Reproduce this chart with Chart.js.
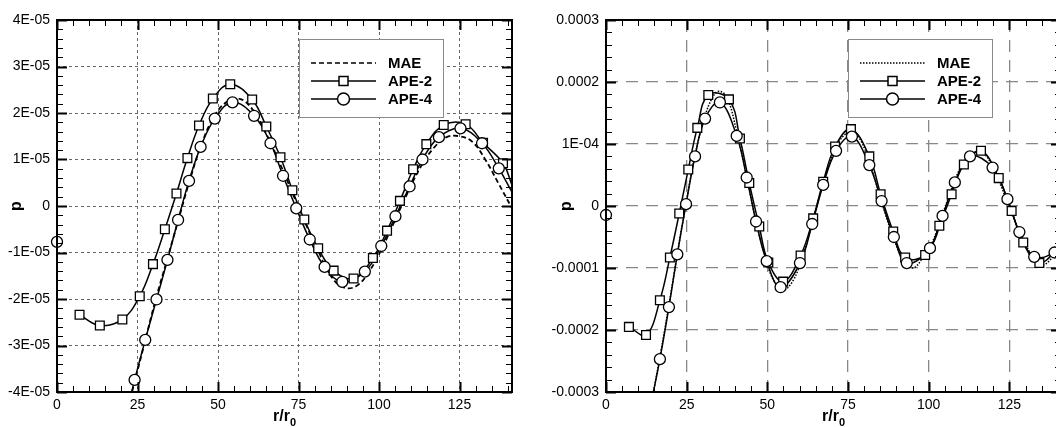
<!DOCTYPE html>
<html>
<head>
<meta charset="utf-8">
<script src="https://cdn.jsdelivr.net/npm/chart.js@4.4.0/dist/chart.umd.min.js"></script>
<style>
html, body { margin: 0; padding: 0; background: #fff; overflow: hidden; width: 1056px; height: 427px; }
canvas { position: absolute; top: 0; }
#leftCnvs { left: 0; }
#rightCnvs { left: 540px; }
</style>
</head>
<body>
<canvas id="leftCnvs" width="540" height="427"></canvas>
<canvas id="rightCnvs" width="530" height="427"></canvas>
<script>
// ---- data (left panel values in units of 1E-05, right panel in units of 1E-04) ----
var seriesNames = ['MAE', 'APE-2', 'APE-4'];
var xTickValues = [0, 25, 50, 75, 100, 125];
var leftYTickLabels  = ['-4E-05', '-3E-05', '-2E-05', '-1E-05', '0', '1E-05', '2E-05', '3E-05', '4E-05'];
var rightYTickLabels = ['-0.0003', '-0.0002', '-0.0001', '0', '1E-04', '0.0002', '0.0003'];

// left panel
var leftApe2X = [7.0, 13.3, 20.3, 25.7, 29.8, 33.5, 37.1, 40.5, 44.1, 48.4, 53.8, 60.6, 65.0, 69.4, 73.1, 76.8, 81.1, 85.9, 92.1, 98.1, 102.5, 106.5, 110.6, 114.7, 120.1, 126.9, 132.3, 138.5];
var leftApe2Y = [-2.34, -2.57, -2.44, -1.94, -1.25, -0.50, 0.27, 1.03, 1.73, 2.31, 2.62, 2.29, 1.71, 1.05, 0.34, -0.29, -0.91, -1.39, -1.56, -1.12, -0.53, 0.11, 0.79, 1.33, 1.74, 1.76, 1.36, 0.92];
var leftApe2End = [141.3, 0.45];
var leftApe4X = [24.1, 27.4, 30.9, 34.3, 37.6, 41.0, 44.6, 49.0, 54.5, 61.2, 66.3, 70.2, 74.3, 78.5, 83.1, 88.6, 95.6, 100.7, 105.1, 109.5, 113.5, 118.6, 125.3, 132.0, 137.2];
var leftApe4Y = [-3.74, -2.88, -2.01, -1.16, -0.30, 0.54, 1.27, 1.88, 2.23, 1.94, 1.35, 0.65, -0.05, -0.72, -1.31, -1.63, -1.41, -0.86, -0.22, 0.42, 1.00, 1.48, 1.67, 1.35, 0.81];
var leftApe4Start = [23.2, -4.0];
var leftApe4End = [141.3, 0.30];
var leftApe4Lone = [0, -0.77];
var leftMaeX = [23.3, 27, 30.5, 34, 37.5, 41, 45, 49, 53, 57, 61, 65, 69, 73, 77, 81, 85, 89, 93, 97, 101, 105, 109, 113, 117, 121, 125, 129, 133, 137, 141.3];
var leftMaeY = [-4.0, -3.0, -2.05, -1.2, -0.35, 0.5, 1.35, 1.95, 2.25, 2.3, 2.05, 1.55, 0.95, 0.3, -0.35, -0.95, -1.5, -1.75, -1.72, -1.4, -0.9, -0.3, 0.3, 0.85, 1.25, 1.48, 1.5, 1.38, 1.0, 0.5, -0.05];

// right panel
var rightApe2X = [7.1, 12.4, 16.7, 19.8, 22.7, 25.5, 28.3, 31.7, 38.1, 41.5, 44.4, 47.5, 50.3, 54.9, 60.3, 64.2, 67.3, 71.0, 75.9, 81.6, 85.1, 89.0, 92.7, 98.9, 103.3, 107.1, 110.9, 116.2, 121.7, 125.7, 129.3, 134.3];
var rightApe2Y = [-1.95, -2.08, -1.52, -0.83, -0.12, 0.59, 1.26, 1.79, 1.72, 1.09, 0.37, -0.33, -0.91, -1.22, -0.80, -0.20, 0.39, 0.96, 1.24, 0.80, 0.19, -0.41, -0.83, -0.79, -0.32, 0.19, 0.67, 0.89, 0.45, -0.08, -0.59, -0.92];
var rightApe2End = [141, -0.62];
var rightApe4X = [16.7, 19.5, 22.1, 24.8, 27.6, 30.7, 35.3, 40.5, 43.6, 46.5, 49.8, 54.1, 60.1, 63.9, 67.3, 71.3, 76.2, 81.6, 85.4, 89.2, 93.2, 100.4, 104.3, 108.1, 112.8, 119.8, 124.4, 128.1, 132.7, 139.0];
var rightApe4Y = [-2.47, -1.63, -0.78, 0.03, 0.80, 1.41, 1.67, 1.13, 0.46, -0.25, -0.89, -1.31, -0.92, -0.29, 0.34, 0.89, 1.12, 0.66, 0.08, -0.50, -0.92, -0.68, -0.16, 0.38, 0.80, 0.62, 0.11, -0.42, -0.82, -0.75];
var rightApe4Start = [14.7, -3.0];
var rightApe4End = [141, -0.62];
var rightApe4Lone = [0, -0.145];
var rightMaeX = [14.7, 17, 19.5, 22, 24.5, 27.5, 30.5, 33, 35, 37.5, 40.5, 43.5, 46.5, 49.5, 52, 55, 58, 61, 64, 67.5, 71, 74, 76.5, 79, 82, 85.5, 89, 92, 95, 98, 101, 104.5, 108, 111, 114, 117, 120, 124, 128, 132, 135, 138, 141];
var rightMaeY = [-3.0, -2.35, -1.6, -0.8, -0.05, 0.8, 1.42, 1.75, 1.85, 1.75, 1.2, 0.5, -0.25, -0.85, -1.2, -1.35, -1.2, -0.8, -0.25, 0.4, 0.92, 1.15, 1.18, 1.05, 0.65, 0.05, -0.5, -0.85, -1.0, -0.85, -0.6, -0.1, 0.4, 0.72, 0.86, 0.85, 0.6, 0.12, -0.4, -0.8, -0.95, -0.85, -0.6];

var FONT = "'Liberation Sans', Arial, Helvetica, sans-serif";

function pts(xs, ys, unit, start, end) {
  var out = [];
  if (start) out.push({x: start[0], y: start[1] * unit});
  for (var i = 0; i < xs.length; i++) out.push({x: xs[i], y: ys[i] * unit});
  if (end) out.push({x: end[0], y: end[1] * unit});
  return out;
}

var frameTicks = {
  id: 'frameTicks',
  afterDraw: function(chart, args, o) {
    var ctx = chart.ctx, a = chart.chartArea, xs = chart.scales.x, ys = chart.scales.y;
    ctx.save();
    ctx.strokeStyle = '#000';
    // inner ticks, x
    for (var v = 0; v <= xs.max + 1e-9; v += 5) {
      var px = Math.round(xs.getPixelForValue(v)) + 0.5;
      var major = (v % 25 === 0);
      var len = major ? 10 : 6;
      ctx.lineWidth = major ? 2 : 1;
      ctx.beginPath();
      ctx.moveTo(px, a.bottom); ctx.lineTo(px, a.bottom - len);
      ctx.moveTo(px, a.top); ctx.lineTo(px, a.top + len);
      ctx.stroke();
    }
    // inner ticks, y
    var n = Math.round((ys.max - ys.min) / o.yMinor);
    for (var k = 0; k <= n; k++) {
      var py = Math.round(ys.getPixelForValue(ys.min + k * o.yMinor)) + 0.5;
      var maj = (k % 5 === 0);
      var l = maj ? 10 : 6;
      ctx.lineWidth = maj ? 2 : 1;
      ctx.beginPath();
      ctx.moveTo(a.left, py); ctx.lineTo(a.left + l, py);
      ctx.moveTo(a.right, py); ctx.lineTo(a.right - l, py);
      ctx.stroke();
    }
    // frame
    ctx.lineWidth = 2;
    ctx.strokeRect(a.left, a.top, a.right - a.left, a.bottom - a.top);

    // legend box
    var L = o.legend;
    ctx.fillStyle = '#fff';
    ctx.fillRect(L.x, L.y, L.w, L.h);
    ctx.lineWidth = 1;
    ctx.strokeStyle = '#8a8a8a';
    ctx.strokeRect(L.x + 0.5, L.y + 0.5, L.w, L.h);
    ctx.strokeStyle = '#000';
    ctx.font = 'bold 15px ' + FONT;
    ctx.textBaseline = 'middle';
    ctx.fillStyle = '#000';
    for (var r = 0; r < seriesNames.length; r++) {
      var ry = L.rowY[r];
      ctx.lineWidth = 1.5;
      ctx.setLineDash(r === 0 ? o.maeDash : []);
      ctx.beginPath();
      ctx.moveTo(L.lx1, ry); ctx.lineTo(L.lx2, ry);
      ctx.stroke();
      ctx.setLineDash([]);
      var cx = (L.lx1 + L.lx2) / 2;
      if (r === 1) {
        ctx.fillStyle = '#fff';
        ctx.fillRect(cx - 4.5, ry - 4.5, 9, 9);
        ctx.strokeRect(cx - 4.5, ry - 4.5, 9, 9);
      } else if (r === 2) {
        ctx.fillStyle = '#fff';
        ctx.beginPath(); ctx.arc(cx, ry, 6, 0, Math.PI * 2); ctx.fill(); ctx.stroke();
      }
      ctx.fillStyle = '#000';
      ctx.textAlign = 'left';
      ctx.fillText(seriesNames[r], L.tx, ry + 1);
    }

    // axis titles
    ctx.save();
    ctx.translate(o.pX, (a.top + a.bottom) / 2);
    ctx.rotate(-Math.PI / 2);
    ctx.textAlign = 'center';
    ctx.font = 'bold 16px ' + FONT;
    ctx.fillText('p', 0, 0);
    ctx.restore();
    var cxm = (a.left + a.right) / 2;
    ctx.font = 'bold 16px ' + FONT;
    var w1 = ctx.measureText('r/r').width;
    ctx.font = 'bold 11px ' + FONT;
    var w2 = ctx.measureText('0').width;
    ctx.textAlign = 'left';
    ctx.textBaseline = 'alphabetic';
    ctx.font = 'bold 16px ' + FONT;
    ctx.fillText('r/r', cxm - (w1 + w2) / 2, 421);
    ctx.font = 'bold 11px ' + FONT;
    ctx.fillText('0', cxm - (w1 + w2) / 2 + w1, 426);
    ctx.restore();
  }
};

function makeChart(id, c) {
  var u = c.unit;
  var lineBase = {showLine: true, pointRadius: 0, borderColor: '#000', borderWidth: 1.5, tension: 0.4, fill: false};
  var datasets = [
    {data: pts(c.a4x, c.a4y, u), showLine: false, pointStyle: 'circle', pointRadius: 5.5,
     pointBackgroundColor: '#fff', pointBorderColor: '#000', pointBorderWidth: 1.3},
    {data: pts(c.a2x, c.a2y, u), showLine: false, pointStyle: 'rect', pointRadius: 6.2,
     pointBackgroundColor: '#fff', pointBorderColor: '#000', pointBorderWidth: 1.3},
    {data: [{x: c.lone[0], y: c.lone[1] * u}], showLine: false, pointStyle: 'circle', pointRadius: 5.5,
     pointBackgroundColor: '#fff', pointBorderColor: '#000', pointBorderWidth: 1.3, clip: false},
    Object.assign({data: pts(c.a4x, c.a4y, u, c.a4s, c.a4e)}, lineBase),
    Object.assign({data: pts(c.a2x, c.a2y, u, null, c.a2e)}, lineBase),
    Object.assign({data: pts(c.mx, c.my, u), borderDash: c.maeDash}, lineBase, {borderWidth: c.maeWidth})
  ];
  return new Chart(document.getElementById(id), {
    type: 'scatter',
    data: {datasets: datasets},
    options: {
      responsive: false,
      animation: false,
      layout: {padding: {left: 0, right: c.padRight, top: 20, bottom: 0}},
      plugins: {
        legend: {display: false},
        tooltip: {enabled: false},
        frameTicks: {yMinor: c.yStep / 5, legend: c.legend, maeDash: c.maeDash, pX: c.pX}
      },
      scales: {
        x: {
          type: 'linear', min: 0, max: c.xMax,
          afterFit: function(s) { s.height = 35; },
          grid: {color: c.gridColor, lineWidth: c.gridWidth, drawTicks: false},
          border: {display: false, dash: c.gridDash},
          ticks: {
            stepSize: 25, includeBounds: false, padding: 5, color: '#000', maxRotation: 0,
            font: {family: FONT, size: 14},
            callback: function(v) { return xTickValues.indexOf(v) >= 0 ? String(v) : ''; }
          }
        },
        y: {
          type: 'linear', min: c.yMin, max: -c.yMin,
          afterFit: function(s) { s.width = c.yWidth; },
          grid: {color: c.gridColor, lineWidth: c.gridWidth, drawTicks: false},
          border: {display: false, dash: c.gridDash},
          ticks: {
            stepSize: c.yStep, padding: 7, color: '#000',
            font: {family: FONT, size: 14},
            callback: function(v) {
              var i = Math.round((v - c.yMin) / c.yStep);
              return c.yLabels[i];
            }
          }
        }
      }
    },
    plugins: [frameTicks]
  });
}

var leftChart = makeChart('leftCnvs', {
  unit: 1e-5, xMax: 141.3, yMin: -4e-5, yStep: 1e-5, yLabels: leftYTickLabels,
  yWidth: 57, padRight: 28,
  a2x: leftApe2X, a2y: leftApe2Y, a2e: leftApe2End,
  a4x: leftApe4X, a4y: leftApe4Y, a4s: leftApe4Start, a4e: leftApe4End, lone: leftApe4Lone,
  mx: leftMaeX, my: leftMaeY, maeDash: [5, 3], maeWidth: 1.8,
  gridColor: '#666', gridWidth: 1, gridDash: [3, 3],
  pX: 17,
  legend: {x: 299, y: 39, w: 144, h: 78, lx1: 311, lx2: 376, tx: 388, rowY: [63, 81, 99]}
});

var rightChart = makeChart('rightCnvs', {
  unit: 1e-4, xMax: 141, yMin: -3e-4, yStep: 1e-4, yLabels: rightYTickLabels,
  yWidth: 66, padRight: 9,
  a2x: rightApe2X, a2y: rightApe2Y, a2e: rightApe2End,
  a4x: rightApe4X, a4y: rightApe4Y, a4s: rightApe4Start, a4e: rightApe4End, lone: rightApe4Lone,
  mx: rightMaeX, my: rightMaeY, maeDash: [1.5, 1.5], maeWidth: 1.5,
  gridColor: '#888', gridWidth: 1.3, gridDash: [12, 8],
  pX: 27,
  legend: {x: 308, y: 39, w: 144, h: 78, lx1: 320, lx2: 385, tx: 397, rowY: [63, 81, 99]}
});
</script>
</body>
</html>
